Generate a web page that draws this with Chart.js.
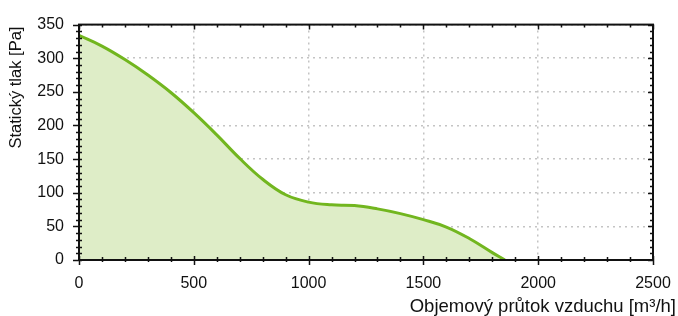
<!DOCTYPE html>
<html>
<head>
<meta charset="utf-8">
<script src="https://cdn.jsdelivr.net/npm/chart.js@4.4.1/dist/chart.umd.min.js"></script>
<style>
    html, body { margin: 0; padding: 0; background: #fff; }
    #wrap { width: 678px; height: 316px; }
</style>
</head>
<body>
<div id="wrap"><canvas id="fanChart" width="678" height="316"></canvas></div>
<script>
// Fan curve data
const airflow = [0, 100, 200, 300, 400, 500, 600, 700, 800, 900, 1000, 1100, 1200, 1300, 1400, 1500, 1600, 1700, 1800, 1855];
const pressure = [334, 318, 298, 275, 249, 219, 186, 151, 120, 97, 86, 82, 81, 76, 69, 60, 49, 32, 11, 0];

// Axis ranges and tick steps
const xRange = [0, 2500];
const yRange = [0, 350];
const xMajorStep = 500;
const xMinorStep = 100;
const yMajorStep = 50;
const yMinorStep = 10;

const xTitle = 'Objemový průtok vzduchu [m³/h]';
const yTitle = 'Statický tlak [Pa]';

const FONT = 'Liberation Sans, Arial, sans-serif';

// Draws the black frame with major/minor tick marks, plus the axis titles
const frameTicks = {
    id: 'frameTicks',
    afterDraw(chart) {
        const { ctx, chartArea: a, scales: { x, y } } = chart;
        ctx.save();
        ctx.strokeStyle = '#111';
        ctx.lineWidth = 1.5;

        for (let v = xRange[0]; v <= xRange[1]; v += xMinorStep) {
            const px = Math.round(x.getPixelForValue(v)) + 0.5;
            const major = v % xMajorStep === 0;
            ctx.beginPath();
            // bottom
            ctx.moveTo(px, a.bottom - (major ? 4 : 3));
            ctx.lineTo(px, a.bottom + (major ? 5 : 2));
            // top
            ctx.moveTo(px, a.top);
            ctx.lineTo(px, a.top + (major ? 5 : 3));
            ctx.stroke();
        }

        for (let v = yRange[0]; v <= yRange[1]; v += yMinorStep) {
            const py = Math.round(y.getPixelForValue(v)) + 0.5;
            const major = v % yMajorStep === 0;
            ctx.beginPath();
            // left
            ctx.moveTo(a.left - (major ? 6 : 3), py);
            ctx.lineTo(a.left + 3, py);
            // right
            ctx.moveTo(a.right, py);
            ctx.lineTo(a.right - (major ? 5 : 3), py);
            ctx.stroke();
        }

        ctx.lineWidth = 2;
        ctx.strokeRect(a.left, a.top, a.right - a.left, a.bottom - a.top);

        // axis titles
        ctx.fillStyle = '#111';
        ctx.font = '18.5px ' + FONT;
        ctx.textAlign = 'right';
        ctx.textBaseline = 'alphabetic';
        ctx.fillText(xTitle, chart.width - 2, 312);

        ctx.translate(21, a.top + 2);
        ctx.rotate(-Math.PI / 2);
        ctx.font = '16.5px ' + FONT;
        ctx.fillText(yTitle, 0, 0);
        ctx.restore();
    }
};

document.addEventListener('DOMContentLoaded', () => {
    const ctx = document.getElementById('fanChart').getContext('2d');

    new Chart(ctx, {
        type: 'line',
        data: {
            datasets: [{
                data: airflow.map((v, i) => ({ x: v, y: pressure[i] })),
                borderColor: '#72b61f',
                backgroundColor: '#deedc7',
                borderWidth: 3,
                pointRadius: 0,
                tension: 0.4,
                fill: 'origin'
            }]
        },
        options: {
            responsive: false,
            animation: false,
            layout: { padding: { left: 0, right: 25, top: 23, bottom: 0 } },
            plugins: {
                legend: { display: false },
                tooltip: { enabled: false }
            },
            scales: {
                x: {
                    type: 'linear',
                    min: xRange[0],
                    max: xRange[1],
                    afterFit: (s) => {
                        s.height = 56;
                        s.paddingLeft = 0;
                        s.paddingRight = 0;
                    },
                    ticks: {
                        stepSize: xMajorStep,
                        padding: 14,
                        color: '#111',
                        font: { family: FONT, size: 16 },
                        maxRotation: 0,
                        callback: (v) => String(v)
                    },
                    grid: {
                        color: '#c4c4c4',
                        lineWidth: 1.5,
                        drawTicks: false
                    },
                    border: { display: false, dash: [2, 4] }
                },
                y: {
                    min: yRange[0],
                    max: yRange[1],
                    afterFit: (s) => { s.width = 79; },
                    ticks: {
                        stepSize: yMajorStep,
                        padding: 15,
                        color: '#111',
                        font: { family: FONT, size: 16 },
                        callback: (v) => String(v)
                    },
                    grid: {
                        color: '#c4c4c4',
                        lineWidth: 1.5,
                        drawTicks: false
                    },
                    border: { display: false, dash: [2, 4] }
                }
            }
        },
        plugins: [frameTicks]
    });
});
</script>
</body>
</html>
